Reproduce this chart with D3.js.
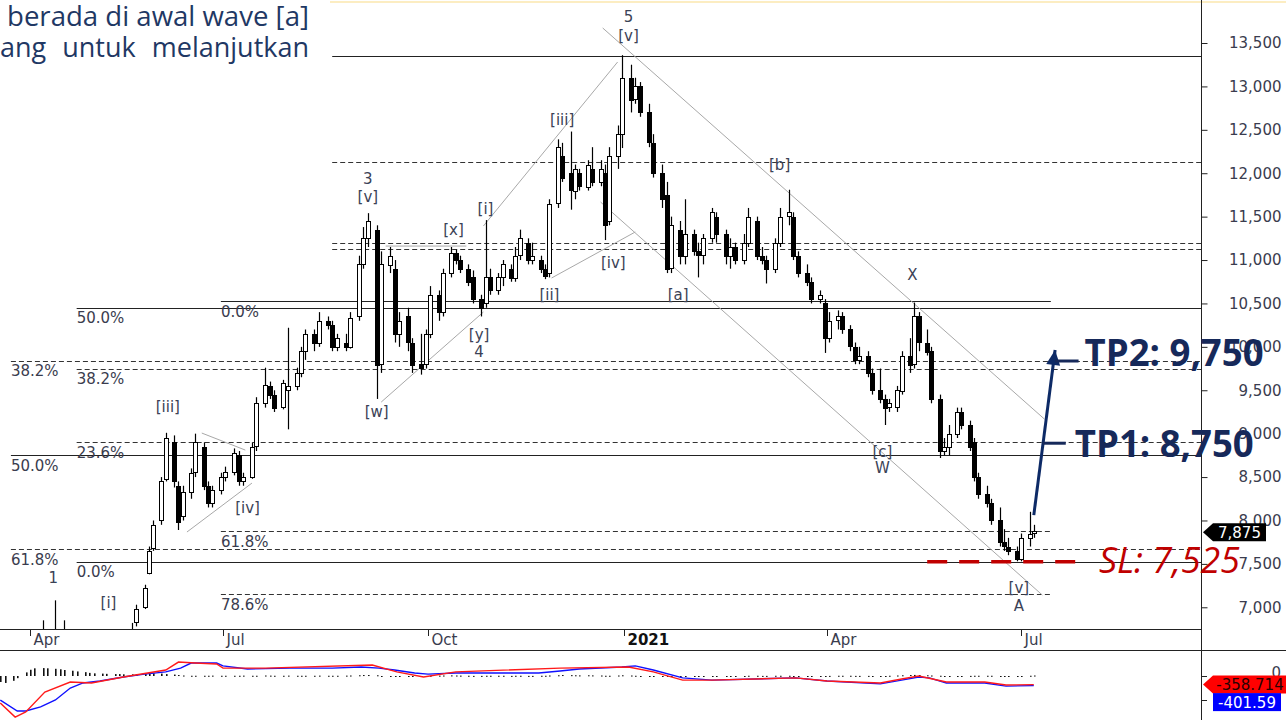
<!DOCTYPE html>
<html><head><meta charset="utf-8">
<script src="https://cdn.jsdelivr.net/npm/d3@7"></script>
<style>body{margin:0;background:#fff}svg{display:block}</style>
</head><body>
<svg id="chart" width="1286" height="720"></svg>
<script>
// ---------------- DATA ----------------
const candleStart = "2020-03-18"; // candles every 2 trading days
const opens  = [5600,5400,5200,5450,5800,6100,6400,6300,6500,6300,6550,6400,6500,6250,6100,6200,6350,6200,6100,6250,6400,6500,6600,6830,7000,7400,7690,8000,8480,8900,8400,8050,8330,8550,8850,8400,8200,8350,8500,8560,8750,8450,8500,8850,9350,9550,9450,9300,9500,9550,9700,9950,10150,10050,10300,10250,10000,10050,10000,10350,10950,11250,11350,9800,10950,10900,10150,10350,10050,9800,9800,10150,10600,10400,10850,11080,11000,10900,10800,10550,10500,10800,10650,10800,10900,10800,11050,11200,11000,11000,10900,10850,11650,12200,12000,11800,12000,11850,12050,11900,12000,11450,12200,12450,13100,12850,13000,12700,12350,12000,11750,10900,11350,11050,11300,11100,11050,11250,11500,11300,11050,11150,11000,11200,11450,11050,11000,10900,11200,11500,11500,11050,10850,10750,10550,10500,10100,10300,10350,10200,10000,9850,9900,9700,9500,9400,9300,9300,9500,9900,9800,10350,10050,9950,9400,8800,8850,9000,9250,9100,8900,8500,8300,8200,8000,7750,7700,7650,7560,7800,7850];
const highs  = [5800,5600,5500,5900,6200,6500,6600,6850,6600,7080,6650,6850,6600,6400,6300,6450,6500,6350,6300,6500,6600,6650,6820,7030,7260,7700,8000,8500,9010,8980,8450,8400,8600,9000,8900,8450,8400,8550,8620,8830,8800,8550,8900,9420,9760,9600,9500,9620,10220,9760,10000,10200,10200,10400,10350,10300,10150,10150,10400,11050,11380,11540,11400,11100,11150,11000,10400,10450,10100,10150,10200,10700,10650,10900,11150,11120,11050,10950,10880,10600,11460,10900,10850,11000,10950,11150,11350,11250,11200,11050,10950,11700,12390,12350,12480,12100,12050,12150,12300,12150,12100,12300,12550,13360,13250,13100,13050,12800,12450,12100,11900,11500,11450,11700,11350,11200,11300,11600,11550,11350,11250,11200,11300,11600,11500,11150,11050,11250,11600,11810,11550,11100,10950,10800,10650,10550,10400,10420,10400,10250,10050,10000,9950,9750,9750,9450,9400,9550,9950,10100,10510,10400,10200,10000,9450,8950,9100,9300,9300,9150,8950,8550,8400,8250,8150,7900,7800,7700,7850,8100,7950];
const lows   = [5300,5100,5000,5400,5700,6000,6200,6250,6200,6250,6300,6350,6200,6000,5950,6100,6150,6000,6000,6200,6300,6400,6550,6780,6980,7380,7650,7950,8450,8380,7890,8000,8250,8500,8350,8150,8150,8300,8450,8520,8400,8400,8480,8800,9300,9400,9250,9280,9050,9500,9650,9850,9950,10000,10200,9950,9950,9950,9980,10300,10900,11150,9400,9700,10850,10050,10000,9950,9700,9680,9750,10100,10300,10350,10800,10950,10850,10700,10500,10350,10450,10600,10600,10700,10750,10750,11000,10950,10950,10850,10780,10800,11600,11900,11580,11700,11800,11800,11850,11850,11230,11400,12050,12290,12700,12800,12650,12300,11950,11600,10850,10850,10950,10950,11050,10800,10950,11200,11200,10950,10900,10950,10950,11150,11000,10950,10730,10850,11150,11400,11000,10800,10700,10500,10500,9930,10050,10200,10150,9950,9800,9800,9650,9450,9350,9100,9250,9250,9450,9700,9750,9950,9900,9350,8720,8750,8750,8950,9050,8800,8450,8250,8150,7950,7700,7650,7600,7530,7530,7700,7800];
const closes = [5400,5200,5450,5800,6100,6400,6300,6500,6300,6550,6400,6500,6250,6100,6200,6350,6200,6100,6250,6400,6500,6600,6700,6980,7220,7650,7950,8450,8950,8450,7980,8330,8550,8900,8400,8200,8350,8500,8560,8780,8450,8500,8850,9350,9560,9450,9300,9580,9550,9700,9950,10150,10050,10300,10250,10000,10100,10000,10330,10950,11250,11450,9800,10950,11050,10150,10300,10050,9800,9750,10150,10600,10400,10850,11080,11000,10900,10750,10550,10450,10800,10650,10800,10950,10800,11050,11250,11000,11050,10900,10820,11650,12300,11950,11800,12050,11850,12100,11900,12050,11400,12200,12450,13100,12850,13000,12700,12350,12000,11700,10900,11400,11050,11300,11100,11050,11250,11550,11300,11050,11150,11000,11200,11500,11050,11000,10900,11200,11500,11550,11050,10850,10750,10550,10600,10100,10300,10350,10200,10000,9850,9900,9700,9500,9400,9300,9350,9500,9900,9800,10350,10050,9950,9400,8800,8850,9000,9250,9100,8850,8500,8300,8200,8000,7750,7700,7650,7560,7800,7850,7875];
const histValues = [-250,-290,-200,-90,150,260,320,330,320,300,280,250,220,190,160,130,110,100,90,80,80,70,70,80,90,100,110,100,80,60,40,20,10,10,10,10,15,10,10,10,10,15,10,10,20,15,10,10,15,10,10,10,10,15,10,10,10,15,20,30,40,40,30,-10,-20,-20,-10,-10,-15,-20,-10,10,15,20,25,20,15,10,5,5,10,10,10,10,5,10,10,5,5,10,10,20,30,40,35,30,25,30,25,20,10,10,20,30,20,10,-10,-20,-30,-40,-40,-30,-30,-20,-20,-10,-10,-5,-5,-10,-10,-10,-10,10,10,5,5,10,10,10,-10,-10,-15,-20,-10,-5,5,10,10,10,5,5,5,-5,-10,-5,10,20,30,40,45,40,30,20,10,-10,-20,-10,-5,5,10,10,10,10,-5,-10,-15,-15,-10,10,20];

const macdDates = ["2020-03-18","2020-03-25","2020-03-30","2020-04-08","2020-04-20","2020-04-30","2020-05-15","2020-06-04","2020-06-10","2020-06-18","2020-06-28","2020-07-01","2020-07-20","2020-09-06","2020-09-17","2020-09-29","2020-10-14","2020-12-02","2021-01-03","2021-01-14","2021-01-27","2021-02-09","2021-03-18","2021-04-01","2021-04-26","2021-05-06","2021-05-14","2021-05-27","2021-06-14","2021-06-24","2021-07-07"];
const macdValues = [-1125,-1710,-1500,-670,-250,-290,-40,250,580,540,500,330,330,460,170,-40,170,330,375,170,-170,-170,-80,-210,-290,-125,0,-250,-250,-375,-358.714];
const signalDates = ["2020-03-18","2020-03-26","2020-03-30","2020-04-06","2020-04-13","2020-04-20","2020-04-26","2020-05-04","2020-05-15","2020-05-25","2020-06-04","2020-06-11","2020-06-16","2020-06-28","2020-07-01","2020-07-12","2020-07-31","2020-08-19","2020-09-01","2020-09-09","2020-09-16","2020-09-25","2020-10-01","2020-10-14","2020-11-03","2020-11-22","2020-12-02","2020-12-11","2020-12-31","2021-01-06","2021-01-14","2021-01-27","2021-02-09","2021-03-18","2021-04-01","2021-04-26","2021-05-06","2021-05-14","2021-05-19","2021-05-27","2021-06-14","2021-06-24","2021-07-07"];
const signalValues = [-1000,-1460,-1460,-1290,-1000,-500,-290,-210,-40,80,170,330,540,540,420,290,330,330,375,330,250,125,80,125,125,125,210,290,375,420,250,-80,-170,-80,-210,-330,-170,-40,-80,-290,-290,-420,-401.59];

const quarterDates  = ["2020-04-01","2020-07-01","2020-10-01","2021-01-01","2021-04-01","2021-07-01"];
const quarterLabels = ["Apr","Jul","Oct","2021","Apr","Jul"];
const priceTicks = [7000,7500,8000,8500,9000,9500,10000,10500,11000,11500,12000,12500,13000,13500];
const lastPrice = 7875;

// horizontal levels (fibonacci / support-resistance)
const levelValues = [13350,12125,11200,11125,10525,10450,9840,9750,8900,8750,7875,7670,7525,7150];
const levelFrom   = ["2020-08-19","2020-08-19","2020-08-19","2020-08-19","2020-06-30","2020-04-23","2020-03-23","2020-04-23","2020-04-23","2020-03-23","2020-06-30","2020-03-23","2020-04-23","2020-06-30"];
const levelTo     = [null,null,null,null,"2021-07-15",null,null,null,null,null,"2021-07-15",null,null,"2021-07-15"];
const levelKind   = ["solid","dash","dash","dash","solid","solid","dash","dash","dash","solid","dash","dash","solid","dash"];
const levelLabels = ["","","","","0.0%","50.0%","38.2%","38.2%","23.6%","50.0%","61.8%","61.8%","0.0%","78.6%"];

// trend lines [date1, value1, date2, value2]
const trendLines = [
  ["2020-06-21",9007,"2020-07-11",8811],
  ["2020-06-14",7867,"2020-07-14",8431],
  ["2020-09-10",9364,"2020-10-27",10401],
  ["2020-10-27",11392,"2020-12-29",13281],
  ["2020-11-28",10793,"2021-01-06",11323],
  ["2020-12-22",13673,"2021-07-12",9168],
  ["2020-12-21",11668,"2021-07-11",7141],
  ["2020-09-12",11161,"2020-10-19",11161]
];

// wave labels [text, date, value]
const waveLabels = [
  ["5","2021-01-03",13800],["[v]","2021-01-03",13581],
  ["3","2020-09-04",11933],["[v]","2020-09-04",11726],
  ["[iii]","2020-12-03",12613],["[i]","2020-10-28",11588],["[x]","2020-10-13",11346],
  ["[iv]","2020-12-27",10966],["[ii]","2020-11-27",10597],["[a]","2021-01-25",10597],
  ["[b]","2021-03-11",12095],["X","2021-05-11",10827],["[c]","2021-04-27",8788],["W","2021-04-27",8604],
  ["[v]","2021-06-30",7222],["A","2021-06-30",7014],
  ["[iii]","2020-06-05",9307],["[iv]","2020-07-12",8143],["[w]","2020-09-08",9249],
  ["[y]","2020-10-25",10136],["4","2020-10-25",9940],["1","2020-04-12",7337],["[i]","2020-05-08",7049]
];

const slValue = 7525, slFrom = "2021-05-18", slTo = "2021-07-31";
const arrowFrom = ["2021-07-07",8062], arrowTo = ["2021-07-17",9963];
const tp1Level = 8890, tp2Level = 9837;

// ---------------- CHART ----------------
const parse = d3.timeParse("%Y-%m-%d");
const svg = d3.select("#chart");
const FONT = "'DejaVu Sans', Verdana, sans-serif";
svg.append("rect").attr("width",1286).attr("height",720).attr("fill","#fff");

const plotR = 1201, priceB = 629, sepY = 650;
const x = d3.scaleTime().domain(quarterDates.map(parse)).range([30,223,428,624,827,1021]);
const y = d3.scaleLinear().domain([6750,13500]).range([priceB,43]);
const ym = d3.scaleLinear().domain([-1800,1050]).range([719.2,650.8]);
const px = v => Math.round(v)+0.5;

const defs = svg.append("defs");
defs.append("clipPath").attr("id","cp").append("rect").attr("x",0).attr("y",0).attr("width",plotR).attr("height",priceB);
defs.append("clipPath").attr("id","cm").append("rect").attr("x",0).attr("y",sepY+1).attr("width",plotR).attr("height",720-sepY);

// top thin border
svg.append("line").attr("x1",330).attr("x2",1286).attr("y1",2).attr("y2",2).attr("stroke","#fbe7ae").attr("stroke-width",1.5);

const gP = svg.append("g").attr("clip-path","url(#cp)");

// levels
const gLab = svg.append("g").attr("font-family",FONT).attr("font-size",15).attr("fill","#3a3c4e");
levelValues.forEach((v,i)=>{
  const x1 = x(parse(levelFrom[i])), x2 = levelTo[i] ? x(parse(levelTo[i])) : plotR;
  gP.append("line").attr("x1",x1).attr("x2",x2).attr("y1",px(y(v))).attr("y2",px(y(v)))
    .attr("stroke",levelKind[i]==="dash"?"#333":"#222").attr("stroke-width",1.1)
    .attr("stroke-dasharray",levelKind[i]==="dash"?"5,3":null);
  if(levelLabels[i]) gLab.append("text").attr("x",x1).attr("y",y(v)+15.5).text(levelLabels[i]);
});

// trend lines
trendLines.forEach(t=>{
  gP.append("line").attr("x1",x(parse(t[0]))).attr("y1",y(t[1])).attr("x2",x(parse(t[2]))).attr("y2",y(t[3]))
    .attr("stroke","#a8a8a8").attr("stroke-width",1);
});

// candle dates
function addWeekdays(d,n){const r=new Date(d);let k=0;while(k<n){r.setDate(r.getDate()+1);const w=r.getDay();if(w!==0&&w!==6)k++;}return r;}
const candleDates=[];{let cd=parse(candleStart);for(let i=0;i<closes.length;i++){candleDates.push(cd);cd=addWeekdays(cd,2);}}
const candles = closes.map((c,i)=>({d:candleDates[i],o:opens[i],h:highs[i],l:lows[i],c:c}));

const gC = gP.append("g");
candles.forEach(k=>{
  const cx = px(x(k.d));
  gC.append("line").attr("x1",cx).attr("x2",cx).attr("y1",y(k.h)).attr("y2",y(k.l)).attr("stroke","#000").attr("stroke-width",1.2);
  const top = Math.min(y(k.o),y(k.c)), hgt = Math.max(1,Math.abs(y(k.o)-y(k.c)));
  gC.append("rect").attr("x",cx-2).attr("y",Math.round(top)+0.5).attr("width",4).attr("height",Math.round(hgt))
    .attr("fill",k.c>=k.o?"#fff":"#000").attr("stroke","#000").attr("stroke-width",1);
});

// SL dashed line
gP.append("line").attr("x1",x(parse(slFrom))).attr("x2",x(parse(slTo))).attr("y1",y(slValue)).attr("y2",y(slValue))
  .attr("stroke","#c00000").attr("stroke-width",3.5).attr("stroke-dasharray","20,12");

// wave labels
const gW = svg.append("g").attr("font-family",FONT).attr("font-size",15).attr("fill","#3b4256").attr("text-anchor","middle");
waveLabels.forEach(w=>{
  gW.append("text").attr("x",x(parse(w[1]))).attr("y",y(w[2])).attr("dy","0.36em").text(w[0]);
});

// axes lines
svg.append("line").attr("x1",0).attr("x2",plotR).attr("y1",priceB+0.5).attr("y2",priceB+0.5).attr("stroke","#222");
svg.append("line").attr("x1",0).attr("x2",1286).attr("y1",sepY+0.5).attr("y2",sepY+0.5).attr("stroke","#222");
svg.append("line").attr("x1",plotR+0.5).attr("x2",plotR+0.5).attr("y1",0).attr("y2",720).attr("stroke","#222");

// right price axis
const ay = svg.append("g").attr("transform",`translate(${plotR+0.5},0)`)
  .call(d3.axisRight(y).tickValues(priceTicks).tickSize(6).tickFormat(d3.format(",")));
ay.select(".domain").remove();
ay.selectAll("line").attr("stroke","#222");
ay.selectAll("text").attr("x",80).attr("text-anchor","end").attr("font-family",FONT).attr("font-size",15).attr("fill","#3a3c4e");

// date axis
const gX = svg.append("g").attr("font-family",FONT).attr("font-size",15).attr("fill","#3a3c4e");
quarterDates.forEach((d,i)=>{
  const xx = px(x(parse(d)));
  gX.append("line").attr("x1",xx).attr("x2",xx).attr("y1",priceB).attr("y2",priceB+7).attr("stroke","#222");
  gX.append("text").attr("x",xx+3).attr("y",priceB+16).text(quarterLabels[i])
    .attr("font-weight",quarterLabels[i]==="2021"?"bold":null).attr("fill",quarterLabels[i]==="2021"?"#111":null);
});

// MACD panel
const gM = svg.append("g").attr("clip-path","url(#cm)");
candles.forEach((k,i)=>{
  const v = histValues[i];
  const y0 = ym(0), y1 = ym(v);
  gM.append("rect").attr("x",Math.round(x(k.d))).attr("width",1.6)
    .attr("y",Math.min(y0,y1)).attr("height",Math.max(1,Math.abs(y1-y0))).attr("fill","#111");
});
const mline = d3.line().x(d=>x(d[0])).y(d=>ym(d[1]));
gM.append("path").attr("d",mline(signalDates.map((d,i)=>[parse(d),signalValues[i]]))).attr("fill","none").attr("stroke","#1010ff").attr("stroke-width",1.4);
gM.append("path").attr("d",mline(macdDates.map((d,i)=>[parse(d),macdValues[i]]))).attr("fill","none").attr("stroke","#ff1a1a").attr("stroke-width",1.4);

// MACD axis ticks
[0,-1000].forEach(v=>{
  svg.append("line").attr("x1",plotR).attr("x2",plotR+6).attr("y1",px(ym(v))).attr("y2",px(ym(v))).attr("stroke","#222");
});
svg.append("text").attr("x",1281).attr("y",ym(0)).attr("dy","0.1em").attr("text-anchor","end")
  .attr("font-family",FONT).attr("font-size",15).attr("fill","#3a3c4e").text("0");

// value tags
function tag(yc, w, fill, txt, txtFill, arrow){
  const g = svg.append("g");
  const x0 = plotR+2, xb = plotR+12, h = 18;
  if(arrow){
    g.append("path").attr("d",`M${x0},${yc} L${xb},${yc-h/2} L${xb+w},${yc-h/2} L${xb+w},${yc+h/2} L${xb},${yc+h/2} Z`).attr("fill",fill);
  } else {
    g.append("rect").attr("x",xb).attr("y",yc-h/2).attr("width",w).attr("height",h).attr("fill",fill);
  }
  g.append("text").attr("x",xb+w/2).attr("y",yc).attr("dy","0.36em").attr("text-anchor","middle")
    .attr("font-family",FONT).attr("font-size",15).attr("fill",txtFill).text(txt);
}
tag(y(lastPrice)+1, 53, "#000", d3.format(",")(lastPrice), "#fff", true);
tag(ym(macdValues[macdValues.length-1]), 74, "#ff0000", String(macdValues[macdValues.length-1]), "#2a0000", true);
tag(ym(macdValues[macdValues.length-1])+17.5, 68, "#0000ff", String(signalValues[signalValues.length-1]), "#fff", false);

// TP / SL annotations
const navy = "#16295a";
const ax1 = x(parse(arrowFrom[0])), ay1 = y(arrowFrom[1]), ax2 = x(parse(arrowTo[0])), ay2 = y(arrowTo[1]);
svg.append("line").attr("x1",ax1).attr("y1",ay1).attr("x2",ax2).attr("y2",ay2).attr("stroke","#0d2a66").attr("stroke-width",3);
{
  const dx = ax2-ax1, dy = ay2-ay1, L = Math.hypot(dx,dy), ux = dx/L, uy = dy/L;
  const bx = ax2-ux*15, by = ay2-uy*15, pxv = -uy, pyv = ux;
  svg.append("path").attr("d",`M${ax2},${ay2} L${bx+pxv*7},${by+pyv*7} L${bx-pxv*7},${by-pyv*7} Z`).attr("fill","#0d2a66");
}
// TP ticks
const tp1x = x(parse("2021-07-11")), tp1x2 = x(parse("2021-07-22"));
const tp2x = x(parse("2021-07-17")), tp2x2 = x(parse("2021-07-28"));
svg.append("line").attr("x1",tp1x).attr("x2",tp1x2).attr("y1",y(tp1Level)).attr("y2",y(tp1Level)).attr("stroke",navy).attr("stroke-width",3);
svg.append("line").attr("x1",tp2x).attr("x2",tp2x2).attr("y1",y(tp2Level)).attr("y2",y(tp2Level)).attr("stroke",navy).attr("stroke-width",3);
const bigFont = "'Open Sans','Noto Sans',sans-serif";
svg.append("text").attr("x",tp1x2+9).attr("y",y(tp1Level)+14).attr("font-family",bigFont).attr("font-weight","bold")
  .attr("font-size",38).attr("fill",navy).attr("textLength",179).attr("lengthAdjust","spacingAndGlyphs").text("TP1: 8,750");
svg.append("text").attr("x",tp2x2+6).attr("y",y(tp2Level)+5).attr("font-family",bigFont).attr("font-weight","bold")
  .attr("font-size",38).attr("fill",navy).attr("textLength",179).attr("lengthAdjust","spacingAndGlyphs").text("TP2: 9,750");
svg.append("text").attr("x",x(parse(slTo))+14).attr("y",y(slValue)+11).attr("font-family",bigFont).attr("font-style","italic")
  .attr("font-size",37).attr("fill","#c00000").attr("textLength",141).attr("lengthAdjust","spacingAndGlyphs").text("SL: 7,525");

// top-left slide text (justified lines)
const gT = svg.append("g").attr("font-family",bigFont).attr("font-size",27).attr("fill","#1f3864");
gT.append("text").attr("x",7).attr("y",26).attr("textLength",302).attr("lengthAdjust","spacingAndGlyphs").text("berada di awal wave [a]");
const wA = gT.append("text").attr("x",0).attr("y",57).text("ang");
const wC = gT.append("text").attr("x",309).attr("y",57).attr("text-anchor","end").text("melanjutkan");
const wB = gT.append("text").attr("y",57).attr("text-anchor","middle").text("untuk");
const aEnd = wA.node().getComputedTextLength();
const cStart = 309 - wC.node().getComputedTextLength();
wB.attr("x",(aEnd + cStart)/2);
</script>
</body></html>
